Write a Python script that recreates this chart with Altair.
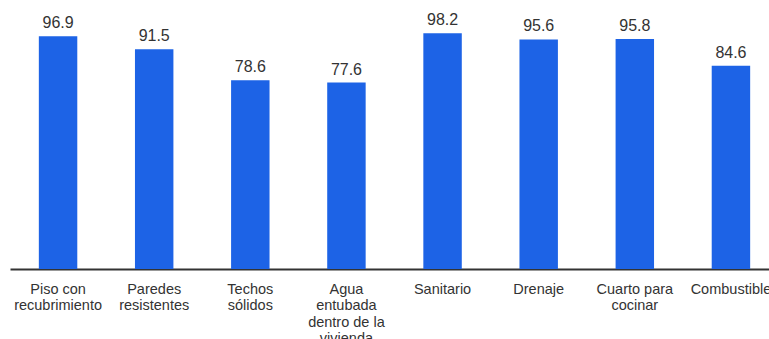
import altair as alt
import pandas as pd

categories = [
    "Piso con\nrecubrimiento",
    "Paredes\nresistentes",
    "Techos\nsólidos",
    "Agua\nentubada\ndentro de la\nvivienda",
    "Sanitario",
    "Drenaje",
    "Cuarto para\ncocinar",
    "Combustible",
]
values = [96.9, 91.5, 78.6, 77.6, 98.2, 95.6, 95.8, 84.6]
value_labels = ["96.9", "91.5", "78.6", "77.6", "98.2", "95.6", "95.8", "84.6"]

df = pd.DataFrame({"cat": categories, "val": values, "lab": value_labels})

x = alt.X(
    "cat:N",
    sort=categories,
    title=None,
    scale=alt.Scale(range=[0, 769], paddingInner=0.6, paddingOuter=0.3),
    axis=alt.Axis(
        labelExpr="split(datum.label, '\\n')",
        labelAngle=0,
        labelFont="Liberation Sans",
        labelFontSize=14.5,
        labelColor="#333333",
        labelLineHeight=16.5,
        labelPadding=13,
        labelLimit=0,
        labelBaseline="top",
        ticks=False,
        domainColor="#333333",
        domainWidth=2,
        labelOverlap=False,
        labelBound=False,
        labelFlush=False,
    ),
)
y = alt.Y("val:Q", scale=alt.Scale(domain=[0, 112], nice=False), axis=None)

bars = alt.Chart(df).mark_bar(color="#1d63e6").encode(x=x, y=y)
text = alt.Chart(df).mark_text(
    baseline="bottom", dy=-5, font="Liberation Sans", fontSize=16, color="#333333"
).encode(x=alt.X("cat:N", sort=categories), y="val:Q", text="lab:N")

chart = (
    alt.layer(bars, text)
    .properties(
        width=759,
        height=269,
        autosize=alt.AutoSizeParams(type="none"),
        padding={"left": 10, "top": 0, "right": 0, "bottom": 70},
        background="white",
    )
    .configure_view(stroke=None)
)

chart.save("out.html", embed_options={"renderer": "svg", "actions": False})
